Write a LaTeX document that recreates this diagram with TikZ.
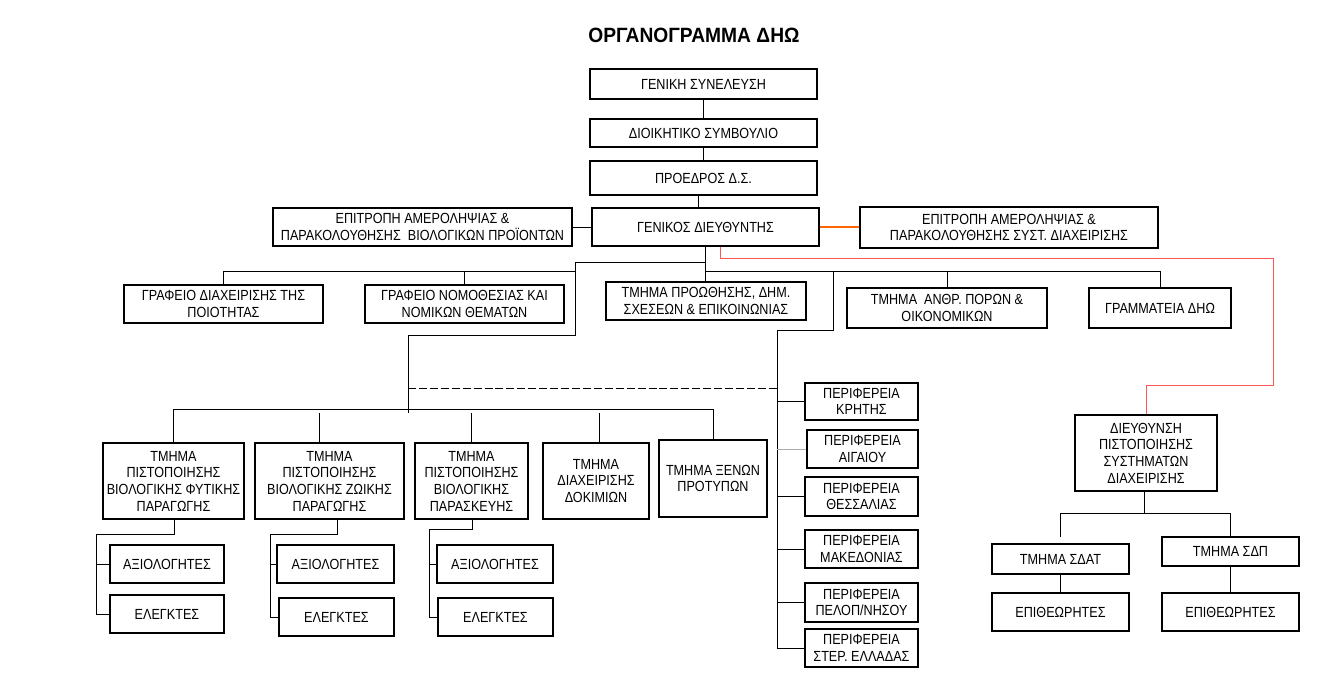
\documentclass[tikz,border=0pt]{standalone}
\usepackage{fontspec}
\setmainfont{Liberation Sans}[FakeStretch=0.86]
\newfontfamily\titlefont{Liberation Sans}[FakeStretch=0.93]
\definecolor{conorange}{RGB}{255,102,0}
\definecolor{conred}{RGB}{255,85,85}
\tikzset{
  bx/.style={draw, line width=0.8pt, inner sep=0pt, align=center,
             font=\fontsize{11}{12.5}\selectfont},
  ln/.style={line width=0.75pt},
  redln/.style={line width=0.75pt, draw=conred},
  orln/.style={line width=0.9pt, draw=conorange},
  dashln/.style={line width=0.7pt, dash pattern=on 6pt off 2.2pt},
}
\newcommand\orgbox[6]{\node[bx, minimum width={(#4-#2)*0.75pt}, minimum height={(#5-#3)*0.75pt}] (#1) at ({(#2+#4)/2},{(#3+#5)/2}) {#6};}
\begin{document}
\begin{tikzpicture}[x=0.75pt, y=-0.75pt]
\fill[white] (0,0) rectangle (1344,699);
\useasboundingbox (0,0) rectangle (1344,699);

\node[font=\titlefont\bfseries\fontsize{15.5}{18}\selectfont] (title) at (694,35) {ΟΡΓΑΝΟΓΡΑΜΜΑ ΔΗΩ};

% top chain
\orgbox{gs}{590}{69}{817}{99}{ΓΕΝΙΚΗ ΣΥΝΕΛΕΥΣΗ}
\orgbox{ds}{590}{119}{817}{147}{ΔΙΟΙΚΗΤΙΚΟ ΣΥΜΒΟΥΛΙΟ}
\orgbox{pr}{590}{161}{817}{195}{ΠΡΟΕΔΡΟΣ Δ.Σ.}
\orgbox{gd}{592}{208}{819}{246}{ΓΕΝΙΚΟΣ ΔΙΕΥΘΥΝΤΗΣ}
\orgbox{epl}{273}{208}{572}{246}{ΕΠΙΤΡΟΠΗ ΑΜΕΡΟΛΗΨΙΑΣ \&\\ΠΑΡΑΚΟΛΟΥΘΗΣΗΣ\ \ ΒΙΟΛΟΓΙΚΩΝ ΠΡΟΪΟΝΤΩΝ}
\orgbox{epr}{860}{207}{1158}{248}{ΕΠΙΤΡΟΠΗ ΑΜΕΡΟΛΗΨΙΑΣ \&\\ΠΑΡΑΚΟΛΟΥΘΗΣΗΣ ΣΥΣΤ. ΔΙΑΧΕΙΡΙΣΗΣ}

% second level
\orgbox{gq}{124}{285}{323}{323}{ΓΡΑΦΕΙΟ ΔΙΑΧΕΙΡΙΣΗΣ ΤΗΣ\\ΠΟΙΟΤΗΤΑΣ}
\orgbox{gn}{365}{285}{564}{323}{ΓΡΑΦΕΙΟ ΝΟΜΟΘΕΣΙΑΣ ΚΑΙ\\ΝΟΜΙΚΩΝ ΘΕΜΑΤΩΝ}
\orgbox{pro}{606}{282}{806}{320}{ΤΜΗΜΑ ΠΡΟΩΘΗΣΗΣ, ΔΗΜ.\\ΣΧΕΣΕΩΝ \& ΕΠΙΚΟΙΝΩΝΙΑΣ}
\orgbox{anth}{847}{288}{1047}{328}{ΤΜΗΜΑ\ \ ΑΝΘΡ. ΠΟΡΩΝ \&\\ΟΙΚΟΝΟΜΙΚΩΝ}
\orgbox{gram}{1089}{288}{1231}{328}{ΓΡΑΜΜΑΤΕΙΑ ΔΗΩ}

% departments
\orgbox{fyt}{103}{443}{244}{519}{ΤΜΗΜΑ\\ΠΙΣΤΟΠΟΙΗΣΗΣ\\ΒΙΟΛΟΓΙΚΗΣ ΦΥΤΙΚΗΣ\\ΠΑΡΑΓΩΓΗΣ}
\orgbox{zoi}{255}{443}{404}{519}{ΤΜΗΜΑ\\ΠΙΣΤΟΠΟΙΗΣΗΣ\\ΒΙΟΛΟΓΙΚΗΣ ΖΩΙΚΗΣ\\ΠΑΡΑΓΩΓΗΣ}
\orgbox{par}{415}{443}{528}{519}{ΤΜΗΜΑ\\ΠΙΣΤΟΠΟΙΗΣΗΣ\\ΒΙΟΛΟΓΙΚΗΣ\\ΠΑΡΑΣΚΕΥΗΣ}
\orgbox{dok}{543}{443}{649}{519}{ΤΜΗΜΑ\\ΔΙΑΧΕΙΡΙΣΗΣ\\ΔΟΚΙΜΙΩΝ}
\orgbox{xen}{659}{440}{767}{517}{ΤΜΗΜΑ ΞΕΝΩΝ\\ΠΡΟΤΥΠΩΝ}

\orgbox{axi1}{110}{545}{224}{583}{ΑΞΙΟΛΟΓΗΤΕΣ}
\orgbox{ele1}{110}{595}{224}{633}{ΕΛΕΓΚΤΕΣ}
\orgbox{axi2}{277}{545}{394}{583}{ΑΞΙΟΛΟΓΗΤΕΣ}
\orgbox{ele2}{279}{598}{394}{636}{ΕΛΕΓΚΤΕΣ}
\orgbox{axi3}{437}{545}{553}{583}{ΑΞΙΟΛΟΓΗΤΕΣ}
\orgbox{ele3}{438}{598}{553}{636}{ΕΛΕΓΚΤΕΣ}

% regions
\orgbox{r1}{805}{383}{918}{420}{ΠΕΡΙΦΕΡΕΙΑ\\ΚΡΗΤΗΣ}
\orgbox{r2}{807}{430}{918}{468}{ΠΕΡΙΦΕΡΕΙΑ\\ΑΙΓΑΙΟΥ}
\orgbox{r3}{805}{477}{918}{516}{ΠΕΡΙΦΕΡΕΙΑ\\ΘΕΣΣΑΛΙΑΣ}
\orgbox{r4}{805}{530}{918}{568}{ΠΕΡΙΦΕΡΕΙΑ\\ΜΑΚΕΔΟΝΙΑΣ}
\orgbox{r5}{805}{583}{918}{622}{ΠΕΡΙΦΕΡΕΙΑ\\ΠΕΛΟΠ/ΝΗΣΟΥ}
\orgbox{r6}{805}{629}{918}{667}{ΠΕΡΙΦΕΡΕΙΑ\\ΣΤΕΡ. ΕΛΛΑΔΑΣ}

% certification directorate
\orgbox{dir}{1075}{415}{1217}{491}{ΔΙΕΥΘΥΝΣΗ\\ΠΙΣΤΟΠΟΙΗΣΗΣ\\ΣΥΣΤΗΜΑΤΩΝ\\ΔΙΑΧΕΙΡΙΣΗΣ}
\orgbox{sdat}{992}{544}{1129}{574}{ΤΜΗΜΑ ΣΔΑΤ}
\orgbox{sdp}{1162}{537}{1299}{566}{ΤΜΗΜΑ ΣΔΠ}
\orgbox{ep1}{992}{593}{1129}{631}{ΕΠΙΘΕΩΡΗΤΕΣ}
\orgbox{ep2}{1162}{593}{1299}{631}{ΕΠΙΘΕΩΡΗΤΕΣ}

% ---- connectors ----
\draw[ln] (gs.south) -- (ds.north);
\draw[ln] (ds.south) -- (ds.south |- pr.north);
\coordinate (pv) at (698,195);
\draw[ln] (pv) -- (pv |- gd.north);
\draw[ln] (epl.east) -- (gd.west);
\draw[orln] (gd.east) -- (gd.east -| epr.west);

% red line to directorate
\coordinate (redx) at (720,258);
\coordinate (redr) at (1273,258);
\coordinate (redd) at (1273,385);
\draw[redln] (redx |- gd.south) -- (redx) -- (redr) -- (redd) -| (dir.north);

% main stem
\draw[ln] (gd.south) -- (gd.south |- pro.north);
\coordinate (ja) at (575,262);
\coordinate (jb) at (575,335);
\coordinate (jc) at (408,335);
\coordinate (jd) at (408,413);
\draw[ln] (ja -| gd.south) -- (ja) -- (jb) -- (jc) -- (jd);

% second level bus
\coordinate (b2) at (575,271);
\draw[ln] (gq.north) |- (b2);
\draw[ln] (gn.north) -- (gn.north |- b2);
\draw[ln] (gd.south |- b2) -| (gram.north);
\draw[ln] (anth.north) -- (anth.north |- b2);

% regional stem
\coordinate (rv) at (833,271);
\coordinate (rw) at (833,330);
\coordinate (rvx) at (777,330);
\draw[ln] (rv) -- (rw) -- (rvx) |- (r6.west);
\foreach \r in {r1,r3,r4,r5} {\draw[ln] (rvx |- \r.west) -- (\r.west);}
\draw[line width=0.75pt, gray!65] (rvx |- r2.west) -- (r2.west);

% dashed link
\coordinate (dl) at (408,388);
\draw[dashln] (dl) -- (dl -| rvx);

% third level bus
\coordinate (b3) at (408,409);
\draw[ln] (fyt.north) |- (b3 -| xen.north) -- (xen.north);
\coordinate (v1) at (319,413);
\coordinate (v3) at (599,413);
\draw[ln] (v1) -- (v1 |- zoi.north);
\draw[ln] (par.north |- v1) -- (par.north);
\draw[ln] (v3) -- (v3 |- dok.north);

% sub units
\coordinate (f1) at (174,534);
\coordinate (f2) at (96,534);
\draw[ln] (f1 |- fyt.south) -- (f1) -- (f2) |- (ele1.west);
\draw[ln] (f2 |- axi1.west) -- (axi1.west);
\coordinate (z1) at (337,534);
\coordinate (z2) at (270,534);
\draw[ln] (z1 |- zoi.south) -- (z1) -- (z2) |- (ele2.west);
\draw[ln] (z2 |- axi2.west) -- (axi2.west);
\coordinate (p1) at (472,529);
\coordinate (p2) at (429,529);
\draw[ln] (p1 |- par.south) -- (p1) -- (p2) |- (ele3.west);
\draw[ln] (p2 |- axi3.west) -- (axi3.west);

% directorate subtree
\coordinate (d1) at (1144,513);
\coordinate (d2) at (1060,537);
\draw[ln] (d1 |- dir.south) -- (d1);
\draw[ln] (d2) |- (sdp.north |- d1) -- (sdp.north);
\draw[ln] (sdat.south) -- (ep1.north);
\draw[ln] (sdp.south) -- (ep2.north);
\end{tikzpicture}
\end{document}
